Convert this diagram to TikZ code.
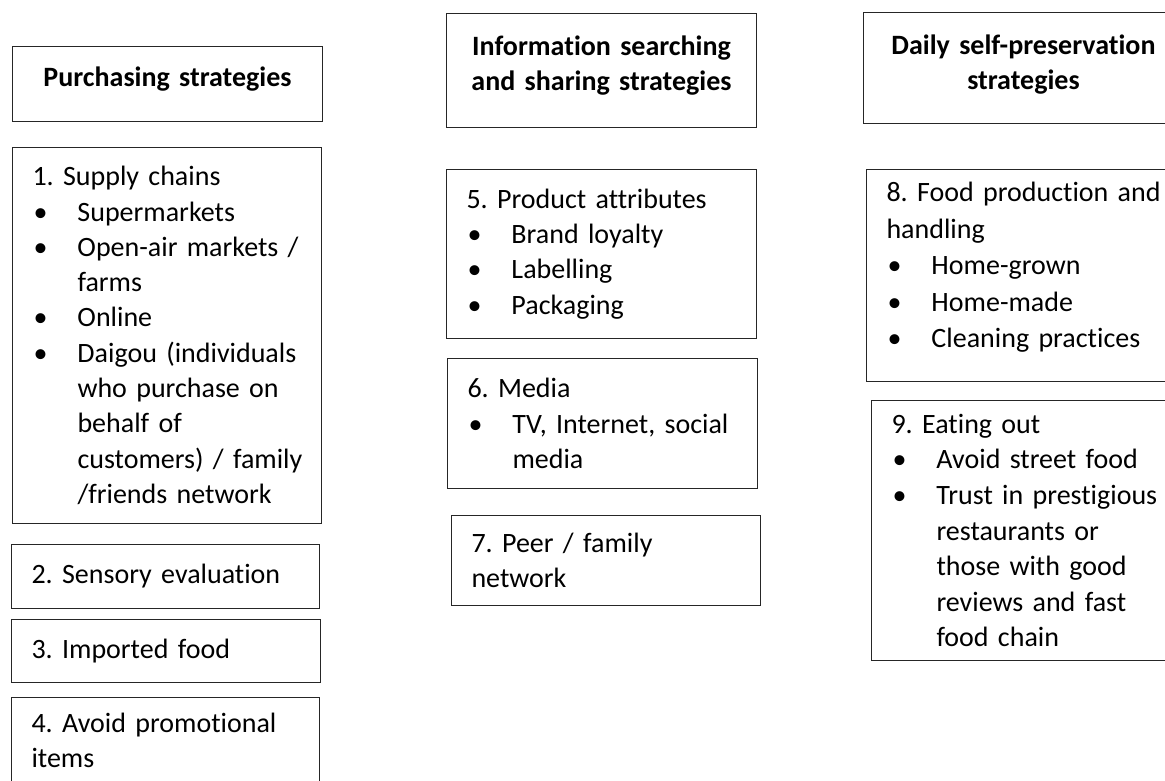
\documentclass[tikz,border=0pt]{standalone}
\usepackage{fontspec}
\setmainfont{Carlito}[Ligatures=NoCommon]
\usetikzlibrary{positioning}
\frenchspacing

\newcommand{\itm}[1]{\mbox{\makebox[45pt][l]{\hspace{1pt}\textbullet}#1}}
\newcommand{\itmcont}[1]{\mbox{\hspace*{45pt}#1}}
\newcommand{\bottomgap}[1]{\endgraf\vspace*{#1}}

\begin{document}
\begin{tikzpicture}[x=1pt, y=-1pt, % pixel grid, y down
  box/.style={draw=black!85, line width=1pt, anchor=north west, inner xsep=20pt, inner ysep=0pt,
    align=left, font=\fontsize{28}{35.3}\selectfont},
  headbox/.style={box, align=center, font=\fontsize{28}{35}\selectfont\bfseries},
  raise/.style={execute at end node={\bottomgap{#1}}}]

\useasboundingbox (0,0) rectangle (1165,780);
\clip (0,0) rectangle (1165,780);

% purchasing
\node[headbox, raise=10pt, text width=270pt, minimum height=75pt] (purch) at (12,46) {Purchasing strategies};
\node[box, text width=269pt, minimum height=376pt] (supply) at (12,147)
 {\mbox{1. Supply chains}\\ \itm{Supermarkets}\\ \itm{Open-air markets /}\\ \itmcont{farms}\\
  \itm{Online}\\ \itm{Daigou (individuals}\\ \itmcont{who purchase on}\\ \itmcont{behalf of}\\
  \itmcont{customers) / family}\\ \itmcont{/friends network}};
\node[box, text width=268pt, minimum height=64pt] (sensory) at (11,544) {\mbox{2. Sensory evaluation}};
\node[box, text width=269pt, minimum height=63pt] (imported) at (11,619) {\mbox{3. Imported food}};
\node[box, text width=268pt, minimum height=86pt] (promo) at (11,697) {\mbox{4. Avoid promotional}\\ \mbox{items}};

% information
\node[headbox, raise=10pt, text width=270pt, minimum height=114pt] (info) at (446,13)
 {Information searching\\ and sharing strategies};
\node[box, text width=270pt, minimum height=169pt] (product) at (446,169)
 {\mbox{5. Product attributes}\\ \itm{Brand loyalty}\\ \itm{Labelling}\\ \itm{Packaging}};
\node[box, text width=270pt, minimum height=130pt] (media) at (447,358)
 {\mbox{6. Media}\\ \itm{TV, Internet, social}\\ \itmcont{media}};
\node[box, text width=269pt, minimum height=90pt] (peer) at (451,515)
 {\mbox{7. Peer / family}\\ \mbox{network}};

% self-preservation
\node[headbox, raise=6pt, text width=280pt, minimum height=111pt] (daily) at (863,12)
 {Daily self-preservation\\ strategies};
\node[box, raise=16pt, text width=280pt, minimum height=212pt, font=\fontsize{28}{36.5}\selectfont] (handling) at (866,169)
 {\mbox{8. Food production and}\\ \mbox{handling}\\ \itm{Home-grown}\\ \itm{Home-made}\\ \itm{Cleaning practices}};
\node[box, text width=280pt, minimum height=260pt, font=\fontsize{28}{35.6}\selectfont] (eating) at (871,400)
 {\mbox{9. Eating out}\\ \itm{Avoid street food}\\ \itm{Trust in prestigious}\\ \itmcont{restaurants or}\\
  \itmcont{those with good}\\ \itmcont{reviews and fast}\\ \itmcont{food chain}};
\end{tikzpicture}
\end{document}
